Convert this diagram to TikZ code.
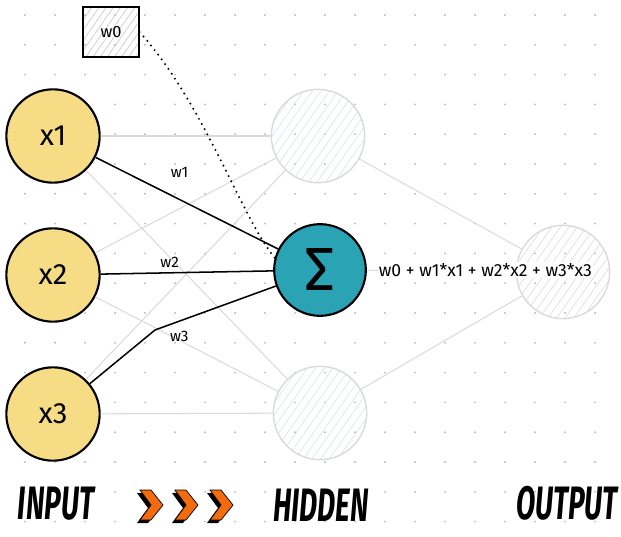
\documentclass[tikz,border=0pt]{standalone}
\usepackage{fontspec}
\setmainfont{Fira Sans}
\usetikzlibrary{positioning, patterns.meta}

\definecolor{inputyellow}{HTML}{F6DC84}
\definecolor{sumteal}{HTML}{2AA3B5}
\definecolor{ghost}{HTML}{DADADA}
\definecolor{hatchblue}{HTML}{D4E3E8}
\definecolor{hatchgray}{HTML}{C4C4C4}
\definecolor{griddot}{HTML}{BDBDBD}
\definecolor{chevron}{HTML}{F26B0F}

\begin{document}
\begin{tikzpicture}[
        x=0.03cm, y=-0.03cm,
        node distance=1cm,
        input/.style={circle, draw, line width=1.8pt, fill=inputyellow, minimum size=2.8cm, font=\fontsize{25}{25}\selectfont},
        hiddenunit/.style={circle, draw=ghost, line width=1.2pt, pattern={Lines[angle=55, distance=6pt, line width=0.5pt]}, pattern color=hatchblue, minimum size=2.8cm},
        outunit/.style={hiddenunit, pattern color=ghost},
        sumunit/.style={circle, draw, line width=1.8pt, fill=sumteal, minimum size=2.75cm, font=\fontsize{52}{52}\selectfont},
        biasbox/.style={rectangle, draw, line width=1.6pt, pattern={Lines[angle=55, distance=5pt, line width=0.5pt]}, pattern color=hatchgray, minimum width=1.7cm, minimum height=1.5cm, font=\fontsize{14}{14}\selectfont},
        ghostline/.style={draw=ghost, line width=0.9pt},
        weightline/.style={line width=1.3pt},
        wlabel/.style={inner sep=1pt, font=\fontsize{13}{13}\selectfont},
        eqlabel/.style={fill=white, inner sep=1pt, font=\fontsize{15}{15}\selectfont},
        layer/.style={xscale=0.6, font=\fontsize{40}{40}\bfseries\itshape\selectfont}
    ]
    \useasboundingbox (0,0) rectangle (621,537);

    % dot grid
    \foreach \i in {0,...,19}
        \foreach \j in {0,...,17}
            \fill[griddot] (25+30*\i, 15+29.8*\j) circle (0.9pt);

    % units
    \node[biasbox] (w0) at (111,32) {w0};
    \node[input] (x1) at (53,136) {x1};
    \node[input] (x2) at (53,275) {x2};
    \node[input] (x3) at (53,414) {x3};
    \node[hiddenunit] (h1) at (318,136) {};
    \node[sumunit] (sum) at (320,270) {Σ};
    \node[hiddenunit] (h3) at (320,413) {};
    \node[outunit] (out) at (563,272) {};

    % faint connections
    \foreach \a in {x1,x2,x3}
        \foreach \b in {h1,h3}
            \draw[ghostline] (\a) -- (\b);
    \foreach \a in {h1,sum,h3}
        \draw[ghostline] (\a) -- (out);

    % weighted inputs
    \coordinate (bend3) at (155,330);
    \draw[weightline] (x1) -- node[wlabel, pos=0.46, above=17pt] {w1} (sum);
    \draw[weightline] (x2) -- node[wlabel, pos=0.4, above=3pt] {w2} (sum);
    \draw[weightline] (x3) -- (bend3) -- node[wlabel, pos=0.2, below=7pt] {w3} (sum);
    \draw[line width=1.9pt, line cap=round, dash pattern=on 0pt off 5pt]
        (w0.east) .. controls (205,105) and (240,215) .. (sum.165);

    \node[eqlabel, right=9pt of sum] (eq) {w0 + w1*x1 + w2*x2 + w3*x3};

    % layer names
    \node[layer] (inname) at (56,504) {INPUT};
    \node[layer] (hidname) at (321,505) {HIDDEN};
    \node[layer] (outname) at (567,503) {OUTPUT};

    % chevrons
    \foreach \c in {137,172,207} {
        \fill[black] (\c,493) -- (\c+11,493) -- (\c+23,508) -- (\c+11,523) -- (\c,523) -- (\c+11,508) -- cycle;
        \filldraw[fill=chevron, draw=black, line width=0.6pt] (\c+3,490) -- (\c+14,490) -- (\c+26,505) -- (\c+14,520) -- (\c+3,520) -- (\c+14,505) -- cycle;
    }
\end{tikzpicture}
\end{document}
